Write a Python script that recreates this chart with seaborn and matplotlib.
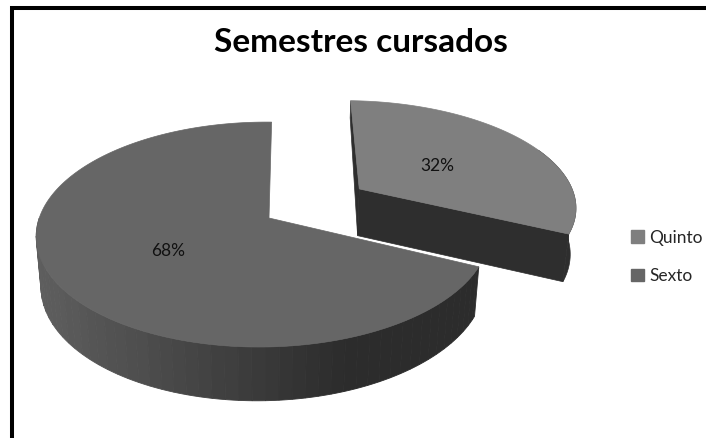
import matplotlib
matplotlib.use("Agg")
import matplotlib.pyplot as plt
import numpy as np
import seaborn as sns
from matplotlib.patches import Patch

semesters = ["Quinto", "Sexto"]
shares = [32, 68]
top_colors = ["#7f7f7f", "#666666"]
wall_color = "#2e2e2e"
title = "Semestres cursados"

# camera fitted to the picture, pie radius is 1 and the height is 1 unit of z
CX, CY = 269, 218
RX, RY = 224, 110
DEPTH = 49.5
TILT_Y, TILT_X, TILT_Z = 0.147, 0.025, 0.02
EXPLODE = (0.42, 0.278)
QUINTO_WIDEN = 1.035


def project(x, y, z=0.0):
    w = 1 + TILT_Y * y + TILT_X * x - TILT_Z * z
    return CX + (RX * x + 3 * y) / w, CY + (-RY * y - DEPTH * z) / w


def arc(a0, a1, off=(0, 0), n=200, widen=1.0):
    t = np.radians(np.linspace(a0, a1, n))
    return widen * np.cos(t) + off[0], np.sin(t) + off[1]


sns.set_theme(style="white")
plt.rcParams["font.family"] = ["Lato", "DejaVu Sans"]

fig = plt.figure(figsize=(7.06, 4.38), dpi=100)
ax = fig.add_axes([0, 0, 1, 1])
ax.set_xlim(0, 706)
ax.set_ylim(438, 0)
ax.axis("off")

# frame, only left and top are in the crop
ax.plot([12, 12, 706], [438, 8, 8], color="black", lw=2.9, solid_joinstyle="miter")

quinto_end = 90 - shares[0] * 3.6
sexto_end = 90 + shares[1] * 3.6

# Quinto slice, pulled out
off = EXPLODE
ox, oy = off
xs, ys = arc(quinto_end, 90, off, widen=QUINTO_WIDEN)

# back cut face, outer wall and front cut face
ax.fill(*project(np.array([ox, xs[-1], xs[-1], ox]), np.array([oy, ys[-1], ys[-1], oy]),
                 np.array([0, 0, -0.4, -1])), color=wall_color, lw=0.5)
wx, wy = arc(quinto_end, 25, off, 40, widen=QUINTO_WIDEN)
ax.fill(*project(np.r_[wx, wx[::-1]], np.r_[wy, wy[::-1]],
                 np.r_[np.zeros(40), -np.ones(40)]), color=wall_color, lw=0.5)
ax.fill(*project(np.array([ox, xs[0], xs[0], ox]), np.array([oy, ys[0], ys[0], oy]),
                 np.array([0, 0, -1, -1])), color=wall_color, lw=0.5)
ax.fill(*project(np.r_[ox, xs], np.r_[oy, ys]), color=top_colors[0], lw=0.5)

# Sexto slice wall, shaded from left to right
steps = np.arange(180, sexto_end, 3.0)
steps = np.r_[steps, sexto_end]
shades = sns.blend_palette(["#5e5e5e", "#2c2c2c"], 65)
for a0, a1 in zip(steps[:-1], steps[1:]):
    wx, wy = arc(a0, a1, n=6)
    px, py = project(np.r_[wx, wx[::-1]], np.r_[wy, wy[::-1]],
                     np.r_[np.zeros(6), -np.ones(6)])
    shade = shades[min(64, int(max(px.mean() - 40, 0) / 300 * 64))]
    ax.fill(px, py, color=shade, lw=0.6)

xs, ys = arc(90, sexto_end)
ax.fill(*project(np.r_[0, xs], np.r_[0, ys]), color=top_colors[1], lw=0.5)

# percent labels sit part way out along the middle of each slice
mid = np.radians(90 - shares[0] * 1.8)
lx, ly = project(ox + 0.47 * np.cos(mid), oy + 0.45 * np.sin(mid))
ax.text(lx, ly, f"{shares[0]}%", fontsize=12.5, color="#111111", ha="center", va="center")
mid = np.radians(90 + shares[1] * 1.8)
lx, ly = project(0.5 * np.cos(mid), 0.53 * np.sin(mid))
ax.text(lx, ly, f"{shares[1]}%", fontsize=12.5, color="#111111", ha="center", va="center")

ax.text(361, 43, title, fontsize=24, fontweight="bold", color="black", ha="center", va="center")

handles = [Patch(color=c, label=s) for c, s in zip(top_colors, semesters)]
ax.legend(handles=handles, loc="center left", bbox_to_anchor=(631 / 706, 1 - 257 / 438),
          frameon=False, fontsize=12.5, handlelength=0.72, handleheight=0.72,
          handletextpad=0.35, labelspacing=1.3, borderpad=0, borderaxespad=0)

fig.savefig("out.png", dpi=100)
